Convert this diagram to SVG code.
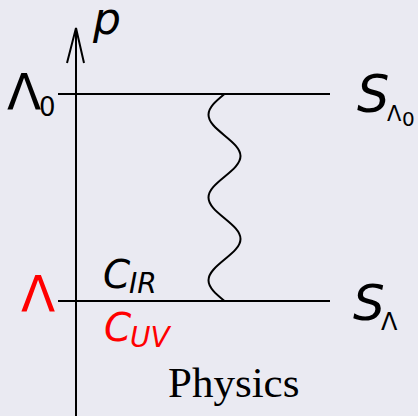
<svg xmlns="http://www.w3.org/2000/svg" width="418" height="416" viewBox="0 0 418 416">
<style>
.ln{stroke:#000;stroke-width:2;fill:none}
.m{font-family:"DejaVu Sans",sans-serif}
.i{font-style:italic}
.r{fill:#ff0000}
.k{fill:#000}
</style>
<rect width="418" height="416" fill="#eaeaf2"/>
<g id="connectors">
<path class="ln" d="M76,416 L76,28"/>
<path class="ln" d="M67,63 L76,28 L84,63"/>
<path class="ln" d="M58,94 L330,94"/>
<path class="ln" d="M58,301 L330,301"/>
<path class="ln" d="M224.5,94 C216.1,100.92 208.5,107.25 208.5,114.7 C208.5,122.16 216.1,128.48 224.5,135.4 C232.9,142.32 240.5,148.65 240.5,156.1 C240.5,163.56 232.9,169.88 224.5,176.8 C216.1,183.72 208.5,190.05 208.5,197.5 C208.5,204.96 216.1,211.28 224.5,218.2 C232.9,225.12 240.5,231.45 240.5,238.9 C240.5,246.36 232.9,252.68 224.5,259.6 C216.1,266.52 208.5,272.85 208.5,280.3 C208.5,287.76 216.1,294.08 224.5,301"/>
</g>
<g id="p"><text class="m i k" x="93" y="34" font-size="44">p</text></g>
<g id="lambda0">
<text class="m k" x="7" y="109" font-size="50">Λ</text>
<text class="m k" x="39" y="116" font-size="26">0</text>
</g>
<g id="S_lambda0">
<text class="m i k" x="357" y="112" font-size="51">S</text>
<text class="m k" x="387" y="121" font-size="21">Λ</text>
<text class="m k" x="402" y="126" font-size="20">0</text>
</g>
<g id="lambda"><text class="m r" x="21" y="311" font-size="50">Λ</text></g>
<g id="S_lambda">
<text class="m i k" x="353" y="320" font-size="50">S</text>
<text class="m k" x="381" y="330" font-size="24">Λ</text>
</g>
<g id="C_IR">
<text class="m i k" x="103" y="288" font-size="39">C</text>
<text class="m i k" x="129" y="293" font-size="28">IR</text>
</g>
<g id="C_UV">
<text class="m i r" x="104" y="341" font-size="39">C</text>
<text class="m i r" x="130" y="347" font-size="28">UV</text>
</g>
<g id="physics"><text x="168" y="397" font-family="'Liberation Serif',serif" font-size="43">Physics</text></g>
</svg>
